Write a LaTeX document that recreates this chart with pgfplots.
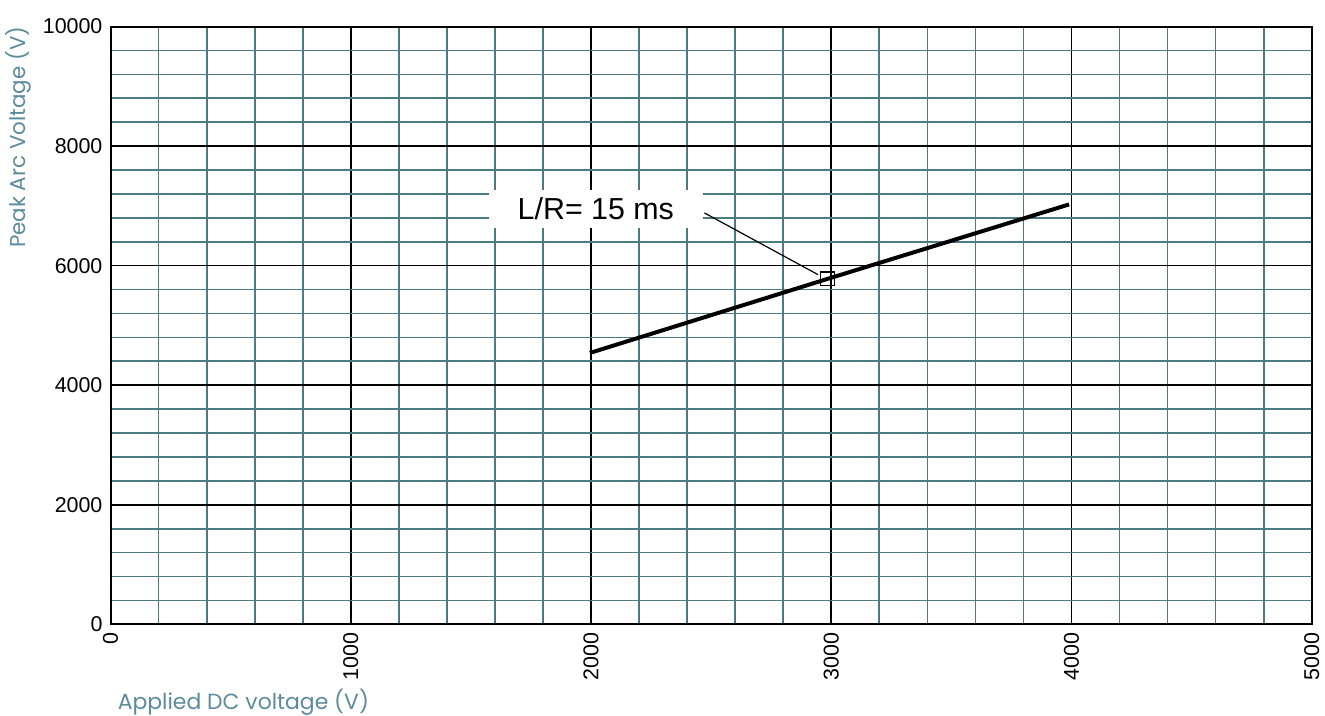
\documentclass[border=0pt]{standalone}
\usepackage{fontspec}
\setmainfont{Liberation Sans}
\newfontfamily\labelfont{Poppins}
\usepackage{pgfplots}
\pgfplotsset{compat=1.18}
\definecolor{minorgrid}{RGB}{74,124,134}
\definecolor{labelcol}{RGB}{92,140,156}
\begin{document}
\begin{tikzpicture}
\useasboundingbox (0,0) rectangle (1330bp,718.7bp);
\begin{axis}[
  at={(111bp,92bp)}, anchor=south west,
  scale only axis, width=1205.7bp, height=600bp,
  xmin=0, xmax=5000, ymin=0, ymax=10000,
  xtick={0,1000,...,5000}, ytick={0,2000,...,10000},
  scaled x ticks=false, scaled y ticks=false,
  minor x tick num=4, minor y tick num=4,
  grid=both,
  major grid style={black, line width=1.6bp},
  minor grid style={minorgrid, line width=1.7bp},
  major tick length=0pt, minor tick length=0pt,
  axis line style={black, line width=2bp},
  tick label style={font=\fontsize{21.5bp}{21.5bp}\selectfont},
  /pgf/number format/assume math mode=true,
  /pgf/number format/1000 sep={},
  xticklabel style={rotate=90, anchor=east, inner xsep=8bp, inner ysep=0pt},
  yticklabel style={anchor=east, inner xsep=8bp, inner ysep=0pt},
  clip=false,
]
\addplot[black, line width=4bp] coordinates {(1995,4540) (2985,5780) (3990,7025)};
\addplot[only marks, mark=square, mark size=6.8bp, mark options={black, line width=1.2bp, fill=none}] coordinates {(2985,5780)};
\draw[black, line width=1.2bp] (axis cs:2472,6883) -- (axis cs:2945,5850);
\node[fill=white, inner xsep=29bp, inner ysep=8bp, font=\fontsize{30.5bp}{30.5bp}\selectfont] at (axis cs:2020,6950) {L/R= 15 ms};
\end{axis}
\node[rotate=90, anchor=east, inner sep=0pt, text=labelcol, font=\labelfont\fontsize{21.5bp}{21.5bp}\selectfont] at (18bp,692bp) {Peak Arc Voltage (V)};
\node[anchor=base west, inner sep=0pt, text=labelcol, font=\labelfont\fontsize{22bp}{22bp}\selectfont] at (118bp,6.5bp) {Applied DC voltage (V)};
\end{tikzpicture}
\end{document}
